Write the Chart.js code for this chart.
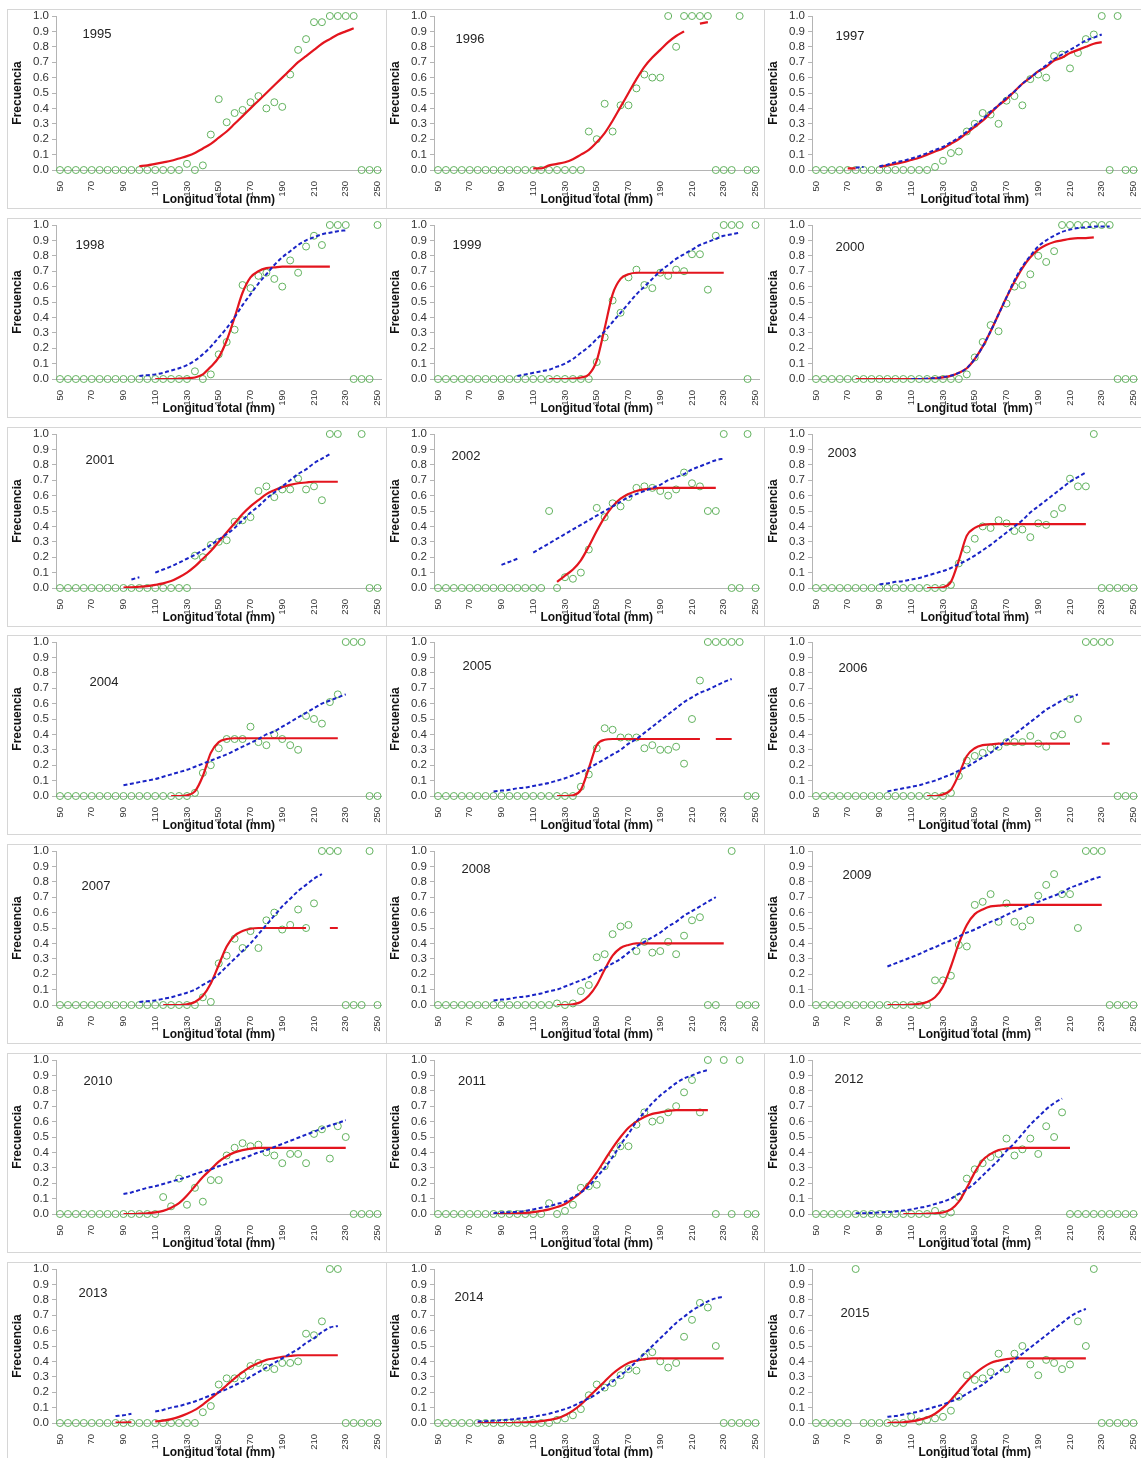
<!DOCTYPE html>
<html lang="es">
<head>
<meta charset="utf-8">
<title>Frecuencia por longitud total, 1995-2015</title>
<script src="https://cdn.jsdelivr.net/npm/chart.js@4.4.1/dist/chart.umd.min.js"></script>
<style>
  html, body { margin: 0; padding: 0; background: #fff; }
  body { width: 1141px; height: 1458px; overflow: hidden; position: relative; }
  .marco { position: absolute; border: 1px solid #d6d6d6; box-sizing: border-box; }
  canvas { position: absolute; }
</style>
</head>
<body>
<script>
const _ = null;

const anios = [1995, 1996, 1997, 1998, 1999, 2000, 2001, 2002, 2003, 2004, 2005,
  2006, 2007, 2008, 2009, 2010, 2011, 2012, 2013, 2014, 2015];

// clases de longitud total (mm), cada 5 mm
const longitudes = [50, 55, 60, 65, 70, 75, 80, 85, 90, 95,
  100, 105, 110, 115, 120, 125, 130, 135, 140, 145,
  150, 155, 160, 165, 170, 175, 180, 185, 190, 195,
  200, 205, 210, 215, 220, 225, 230, 235, 240, 245,
  250];

const titulosX = ['Longitud total (mm)', 'Longitud total (mm)', 'Longitud total mm)',
  'Longitud total (mm)', 'Longitud total (mm)', 'Longitud total  (mm)',
  'Longitud total (mm)', 'Longitud total (mm)', 'Longitud total mm)',
  'Longitud total (mm)', 'Longitud total (mm)', 'Longitud total (mm)',
  'Longitud total (mm)', 'Longitud total (mm)', 'Longitud total (mm)',
  'Longitud total (mm)', 'Longitud total (mm)', 'Longitud total (mm)',
  'Longitud total (mm)', 'Longitud total (mm)', 'Longitud total (mm)'];

// frecuencia observada por clase (círculos)
const frecuencia = [
  [0,0,0,0,0,0,0,0,0,0, 0,0,0,0,0,0,0.04,0,0.03,0.23,
   0.46,0.31,0.37,0.39,0.44,0.48,0.40,0.44,0.41,0.62, 0.78,0.85,0.96,0.96,1,1,1,1,0,0, 0], // 1995
  [0,0,0,0,0,0,0,0,0,0, 0,0,0,0,0,0,0,0,0,0.25,
   0.20,0.43,0.25,0.42,0.42,0.53,0.62,0.60,0.60,1, 0.80,1,1,1,1,0,0,0,1,0, 0], // 1996
  [0,0,0,0,0,0,0,0,0,0, 0,0,0,0,0,0.02,0.06,0.11,0.12,0.25,
   0.30,0.37,0.36,0.30,0.45,0.48,0.42,0.59,0.62,0.60, 0.74,0.75,0.66,0.76,0.85,0.88,1,0,1,0, 0], // 1997
  [0,0,0,0,0,0,0,0,0,0, 0,0,0,0,0,0,0,0.05,0,0.03,
   0.16,0.24,0.32,0.61,0.59,0.67,0.69,0.65,0.60,0.77, 0.69,0.86,0.93,0.87,1,1,1,0,0,0, 1], // 1998
  [0,0,0,0,0,0,0,0,0,0, 0,0,0,0,0,0,0,0,0,0,
   0.11,0.27,0.51,0.43,0.66,0.71,0.61,0.59,0.69,0.67, 0.71,0.70,0.81,0.81,0.58,0.93,1,1,1,0, 1], // 1999
  [0,0,0,0,0,0,0,0,0,0, 0,0,0,0,0,0,0,0,0,0.03,
   0.14,0.24,0.35,0.31,0.49,0.60,0.61,0.68,0.80,0.76, 0.83,1,1,1,1,1,1,1,0,0, 0], // 2000
  [0,0,0,0,0,0,0,0,0,0, 0,0,0,0,0,0,0,0.21,0.20,0.28,
   0.30,0.31,0.43,0.44,0.46,0.63,0.66,0.59,0.64,0.64, 0.71,0.64,0.66,0.57,1,1,_,_,1,0, 0], // 2001
  [0,0,0,0,0,0,0,0,0,0, 0,0,0,0,0.5,0,0.07,0.06,0.10,0.25,
   0.52,0.46,0.55,0.53,0.59,0.65,0.66,0.65,0.63,0.60, 0.64,0.75,0.68,0.66,0.5,0.5,1,0,0,1, 0], // 2002
  [0,0,0,0,0,0,0,0,0,0, 0,0,0,0,0,0,0,0.02,0.16,0.25,
   0.32,0.40,0.39,0.44,0.42,0.37,0.38,0.33,0.42,0.41, 0.48,0.52,0.71,0.66,0.66,1,0,0,0,0, 0], // 2003
  [0,0,0,0,0,0,0,0,0,0, 0,0,0,0,0,0,0,0.02,0.15,0.20,
   0.31,0.37,0.37,0.37,0.45,0.35,0.33,0.40,0.37,0.33, 0.30,0.52,0.50,0.47,0.61,0.66,1,1,1,0, 0], // 2004
  [0,0,0,0,0,0,0,0,0,0, 0,0,0,0,0,0,0,0,0.06,0.14,
   0.31,0.44,0.43,0.38,0.38,0.38,0.31,0.33,0.30,0.30, 0.32,0.21,0.50,0.75,1,1,1,1,1,0, 0], // 2005
  [0,0,0,0,0,0,0,0,0,0, 0,0,0,0,0,0,0,0.02,0.13,0.23,
   0.26,0.28,0.31,0.32,0.35,0.35,0.35,0.39,0.34,0.32, 0.39,0.40,0.63,0.50,1,1,1,1,0,0, 0], // 2006
  [0,0,0,0,0,0,0,0,0,0, 0,0,0,0,0,0,0,0,0.05,0.02,
   0.27,0.32,0.43,0.37,0.48,0.37,0.55,0.60,0.49,0.52, 0.62,0.50,0.66,1,1,1,0,0,0,1, 0], // 2007
  [0,0,0,0,0,0,0,0,0,0, 0,0,0,0,0,0.01,0,0.01,0.09,0.13,
   0.31,0.33,0.46,0.51,0.52,0.35,0.41,0.34,0.35,0.41, 0.33,0.45,0.55,0.57,0,0,_,1,0,0, 0], // 2008
  [0,0,0,0,0,0,0,0,0,0, 0,0,0,0,0,0.16,0.16,0.19,0.39,0.38,
   0.65,0.67,0.72,0.54,0.66,0.54,0.51,0.55,0.71,0.78, 0.85,0.72,0.72,0.50,1,1,1,0,0,0, 0], // 2009
  [0,0,0,0,0,0,0,0,0,0, 0,0,0,0.11,0.05,0.23,0.06,0.17,0.08,0.22,
   0.22,0.38,0.43,0.46,0.44,0.45,0.40,0.38,0.33,0.39, 0.39,0.33,0.52,0.55,0.36,0.57,0.50,0,0,0, 0], // 2010
  [0,0,0,0,0,0,0,0,0,0, 0,0,0,0,0.07,0,0.02,0.06,0.17,0.18,
   0.19,0.31,0.39,0.44,0.44,0.58,0.66,0.60,0.61,0.66, 0.70,0.79,0.87,0.66,1,0,1,0,1,0, 0], // 2011
  [0,0,0,0,0,0,0,0,0,0, 0,0,0,0,0,0.02,0,0.01,0.11,0.23,
   0.29,0.33,0.37,0.39,0.49,0.38,0.42,0.49,0.39,0.57, 0.50,0.66,0,0,0,0,0,0,0,0, 0], // 2012
  [0,0,0,0,0,0,0,0,0,0, 0,0,0,0,0,0,0,0,0.07,0.11,
   0.25,0.29,0.29,0.31,0.37,0.39,0.36,0.35,0.39,0.39, 0.40,0.58,0.57,0.66,1,1,0,0,0,0, 0], // 2013
  [0,0,0,0,0,0,0,0,0,0, 0,0,0,0,0,0.02,0.03,0.05,0.09,0.18,
   0.25,0.23,0.26,0.31,0.35,0.34,0.43,0.46,0.40,0.36, 0.39,0.56,0.67,0.78,0.75,0.50,0,0,0,0, 0], // 2014
  [0,0,0,0,0,1,0,0,0,0, 0,0,0.04,0.01,0.02,0.03,0.04,0.08,0.17,0.31,
   0.28,0.29,0.33,0.45,0.35,0.45,0.50,0.38,0.31,0.41, 0.39,0.35,0.38,0.66,0.50,1,0,0,0,0, 0]  // 2015
];

// curva ajustada (línea roja continua)
const curvaRoja = [
  [_,_,_,_,_,_,_,_,_,_, 0.025,0.03,0.04,0.05,0.06,0.075,0.09,0.11,0.14,0.17,
   0.21,0.25,0.30,0.35,0.40,0.45,0.50,0.55,0.60,0.65, 0.70,0.74,0.78,0.82,0.85,0.88,0.90,0.92,_,_, _], // 1995
  [_,_,_,_,_,_,_,_,_,_, _,_,0.01,0.01,0.03,0.04,0.05,0.07,0.10,0.13,
   0.18,0.24,0.32,0.41,0.50,0.59,0.67,0.73,0.78,0.83, 0.87,0.90,_,0.95,0.96,_,_,_,_,_, _], // 1996
  [_,_,_,_,0.01,0.01,_,_,0.02,0.03, 0.04,0.05,0.065,0.08,0.10,0.12,0.14,0.17,0.20,0.24,
   0.28,0.32,0.37,0.42,0.46,0.51,0.56,0.60,0.64,0.67, 0.71,0.73,0.76,0.78,0.80,0.82,0.83,_,_,_, _], // 1997
  [_,_,_,_,_,_,_,_,_,_, _,_,0,0,0,0.002,0.005,0.01,0.03,0.08,
   0.14,0.25,0.40,0.56,0.66,0.70,0.72,0.725,0.73,0.73, 0.73,0.73,0.73,0.73,0.73,_,_,_,_,_, _], // 1998
  [_,_,_,_,_,_,_,_,_,_, _,_,_,_,0,0,0,0.002,0.01,0.03,
   0.12,0.33,0.55,0.65,0.68,0.69,0.69,0.69,0.69,0.69, 0.69,0.69,0.69,0.69,0.69,0.69,0.69,_,_,_, _], // 1999
  [_,_,_,_,_,0,0,0,0,0, 0,0,0,0,0,0.005,0.01,0.02,0.04,0.07,
   0.13,0.21,0.31,0.42,0.53,0.63,0.72,0.79,0.84,0.87, 0.89,0.90,0.91,0.915,0.915,0.92,_,_,_,_, _], // 2000
  [_,_,_,_,_,_,_,_,0.003,0.005, 0.008,0.012,0.02,0.03,0.045,0.07,0.10,0.14,0.19,0.24,
   0.30,0.36,0.42,0.48,0.53,0.57,0.61,0.635,0.655,0.67, 0.68,0.685,0.69,0.69,0.69,0.69,_,_,_,_, _], // 2001
  [_,_,_,_,_,_,_,_,_,_, _,_,_,_,_,0.04,0.08,0.12,0.18,0.27,
   0.37,0.46,0.53,0.58,0.61,0.63,0.64,0.645,0.65,0.65, 0.65,0.65,0.65,0.65,0.65,0.65,_,_,_,_, _], // 2002
  [_,_,_,_,_,_,_,_,_,_, _,_,_,_,0,0,0.005,0.04,0.18,0.34,
   0.39,0.41,0.415,0.415,0.415,0.415,0.415,0.415,0.415,0.415, 0.415,0.415,0.415,0.415,0.415,_,_,_,_,_, _], // 2003
  [_,_,_,_,_,_,_,_,_,_, _,_,_,_,0,0,0.005,0.03,0.13,0.28,
   0.35,0.37,0.375,0.375,0.375,0.375,0.375,0.375,0.375,0.375, 0.375,0.375,0.375,0.375,0.375,0.375,_,_,_,_, _], // 2004
  [_,_,_,_,_,_,_,_,_,_, _,_,_,_,_,0,0,0.005,0.04,0.18,
   0.33,0.365,0.37,0.37,0.37,0.37,0.37,0.37,0.37,0.37, 0.37,0.37,0.37,0.37,_,0.37,0.37,0.37,_,_, _], // 2005
  [_,_,_,_,_,_,_,_,_,_, _,_,_,_,0,0,0.01,0.04,0.14,0.26,
   0.31,0.33,0.335,0.34,0.34,0.34,0.34,0.34,0.34,0.34, 0.34,0.34,0.34,_,_,_,0.34,0.34,_,_, _], // 2006
  [_,_,_,_,_,_,_,_,_,_, _,_,_,0,0,0,0.005,0.02,0.06,0.14,
   0.26,0.38,0.45,0.48,0.495,0.50,0.50,0.50,0.50,0.50, 0.50,0.50,_,_,0.50,0.50,_,_,_,_, _], // 2007
  [_,_,_,_,_,_,_,_,_,_, _,_,_,_,_,0,0,0.005,0.02,0.06,
   0.13,0.23,0.32,0.37,0.39,0.40,0.40,0.40,0.40,0.40, 0.40,0.40,0.40,0.40,0.40,0.40,0.40,_,_,_, _], // 2008
  [_,_,_,_,_,_,_,_,_,0, 0,0,0.002,0.008,0.02,0.05,0.12,0.25,0.40,0.52,
   0.59,0.62,0.64,0.645,0.65,0.65,0.65,0.65,0.65,0.65, 0.65,0.65,0.65,0.65,0.65,0.65,0.65,_,_,_, _], // 2009
  [_,_,_,_,_,_,_,_,0,0, 0.002,0.005,0.01,0.02,0.04,0.07,0.12,0.18,0.24,0.29,
   0.34,0.375,0.40,0.415,0.425,0.43,0.43,0.43,0.43,0.43, 0.43,0.43,0.43,0.43,0.43,0.43,0.43,_,_,_, _], // 2010
  [_,_,_,_,_,_,_,0,0,0.002, 0.004,0.007,0.012,0.02,0.03,0.045,0.065,0.10,0.14,0.20,
   0.27,0.35,0.43,0.50,0.56,0.60,0.63,0.65,0.66,0.67, 0.675,0.675,0.675,0.675,0.675,_,_,_,_,_, _], // 2011
  [_,_,_,_,_,_,_,_,_,_, _,0,0,0,0.002,0.005,0.01,0.03,0.08,0.17,
   0.27,0.35,0.39,0.415,0.425,0.43,0.43,0.43,0.43,0.43, 0.43,0.43,0.43,_,_,_,_,_,_,_, _], // 2012
  [_,_,_,_,_,_,_,0.003,0.003,0.004, _,_,0.01,0.015,0.025,0.04,0.06,0.085,0.12,0.16,
   0.20,0.245,0.29,0.33,0.365,0.39,0.41,0.42,0.43,0.435, 0.44,0.44,0.44,0.44,0.44,0.44,_,_,_,_, _], // 2013
  [_,_,_,_,_,0,0,0,0,0, 0.002,0.004,0.007,0.012,0.02,0.03,0.05,0.08,0.12,0.17,
   0.22,0.27,0.32,0.36,0.39,0.405,0.415,0.42,0.42,0.42, 0.42,0.42,0.42,0.42,0.42,0.42,0.42,_,_,_, _], // 2014
  [_,_,_,_,_,_,_,_,_,0, 0.002,0.005,0.01,0.02,0.035,0.06,0.10,0.15,0.21,0.27,
   0.32,0.36,0.39,0.405,0.415,0.42,0.42,0.42,0.42,0.42, 0.42,0.42,0.42,0.42,0.42,_,_,_,_,_, _]  // 2015
];

// segunda curva (línea azul discontinua); 1995 y 1996 sin curva
const curvaAzul = [
  [], // 1995
  [], // 1996
  [_,_,_,_,_,0.015,0.02,_,0.025,0.035, 0.05,0.06,0.075,0.09,0.11,0.13,0.15,0.18,0.21,0.25,
   0.29,0.33,0.38,0.42,0.47,0.51,0.56,0.60,0.64,0.68, 0.72,0.75,0.78,0.81,0.84,0.86,0.88,_,_,_, _], // 1997
  [_,_,_,_,_,_,_,_,_,_, 0.02,0.025,0.03,0.04,0.055,0.07,0.09,0.12,0.16,0.21,
   0.27,0.33,0.40,0.48,0.55,0.62,0.68,0.74,0.79,0.83, 0.87,0.90,0.92,0.94,0.95,0.96,0.965,_,_,_, _], // 1998
  [_,_,_,_,_,_,_,_,_,_, 0.02,0.03,0.04,0.05,0.06,0.08,0.10,0.13,0.17,0.21,
   0.26,0.31,0.37,0.43,0.49,0.55,0.60,0.65,0.70,0.74, 0.78,0.81,0.84,0.87,0.89,0.91,0.93,0.94,0.95,_, _], // 1999
  [_,_,_,_,_,_,_,_,_,_, _,_,0,0,0.003,0.006,0.012,0.022,0.04,0.07,
   0.13,0.21,0.31,0.42,0.53,0.64,0.73,0.80,0.86,0.90, 0.93,0.955,0.97,0.98,0.985,0.99,0.99,0.99,_,_, _], // 2000
  [_,_,_,_,_,_,_,_,_,0.055, 0.07,_,0.10,0.12,0.14,0.165,0.19,0.215,0.245,0.28,
   0.315,0.35,0.39,0.44,0.49,0.53,0.58,0.62,0.66,0.70, 0.74,0.77,0.81,0.84,0.87,_,_,_,_,_, _], // 2001
  [_,_,_,_,_,_,_,_,0.15,0.17, 0.19,_,0.23,0.26,0.29,0.32,0.35,0.38,0.41,0.44,
   0.47,0.50,0.53,0.56,0.59,0.61,0.63,0.65,0.67,0.70, 0.72,0.74,0.77,0.79,0.81,0.83,0.84,_,_,_, _], // 2002
  [_,_,_,_,_,_,_,_,0.025,0.03, 0.04,0.045,0.055,0.065,0.08,0.095,0.11,0.13,0.155,0.18,
   0.21,0.245,0.28,0.32,0.36,0.40,0.44,0.49,0.53,0.57, 0.61,0.65,0.69,0.72,0.75,_,_,_,_,_, _], // 2003
  [_,_,_,_,_,_,_,_,0.07,0.08, 0.09,0.10,0.11,0.125,0.14,0.155,0.17,0.19,0.21,0.23,
   0.25,0.27,0.295,0.32,0.345,0.37,0.40,0.42,0.45,0.48, 0.51,0.54,0.57,0.60,0.62,0.64,0.66,_,_,_, _], // 2004
  [_,_,_,_,_,_,_,0.03,0.035,0.04, 0.05,0.055,0.065,0.075,0.085,0.10,0.115,0.135,0.155,0.18,
   0.21,0.24,0.27,0.30,0.34,0.37,0.41,0.45,0.49,0.53, 0.57,0.61,0.64,0.67,0.69,0.715,0.74,0.76,_,_, _], // 2005
  [_,_,_,_,_,_,_,_,_,0.03, 0.04,0.05,0.06,0.07,0.085,0.10,0.12,0.14,0.165,0.19,
   0.22,0.25,0.28,0.32,0.36,0.40,0.44,0.48,0.52,0.56, 0.59,0.62,0.64,0.66,_,_,_,_,_,_, _], // 2006
  [_,_,_,_,_,_,_,_,_,_, 0.02,0.025,0.03,0.04,0.05,0.065,0.08,0.10,0.13,0.16,
   0.20,0.25,0.30,0.35,0.40,0.46,0.52,0.58,0.64,0.69, 0.74,0.78,0.82,0.85,_,_,_,_,_,_, _], // 2007
  [_,_,_,_,_,_,_,0.03,0.035,0.04, 0.05,0.055,0.065,0.075,0.09,0.10,0.12,0.14,0.16,0.18,
   0.21,0.24,0.27,0.30,0.34,0.38,0.41,0.44,0.47,0.51, 0.54,0.58,0.61,0.64,0.67,0.70,_,_,_,_, _], // 2008
  [_,_,_,_,_,_,_,_,_,0.25, 0.27,0.29,0.31,0.33,0.355,0.375,0.40,0.42,0.445,0.47,
   0.49,0.515,0.54,0.56,0.585,0.61,0.63,0.65,0.67,0.69, 0.71,0.73,0.76,0.78,0.80,0.82,0.835,_,_,_, _], // 2009
  [_,_,_,_,_,_,_,_,0.13,0.14, 0.155,0.17,0.18,0.195,0.21,0.225,0.24,0.26,0.275,0.29,
   0.31,0.325,0.345,0.36,0.38,0.40,0.415,0.435,0.455,0.475, 0.495,0.515,0.535,0.555,0.575,0.59,0.61,_,_,_, _], // 2010
  [_,_,_,_,_,_,_,0.005,0.01,0.012, 0.015,0.02,0.03,0.04,0.05,0.065,0.08,0.11,0.14,0.18,
   0.24,0.30,0.37,0.45,0.52,0.60,0.66,0.72,0.77,0.81, 0.85,0.88,0.90,0.92,0.935,_,_,_,_,_, _], // 2011
  [_,_,_,_,_,0.005,0.005,0.007,0.01,0.013, 0.017,0.022,0.03,0.04,0.05,0.065,0.08,0.10,0.13,0.16,
   0.20,0.25,0.30,0.35,0.41,0.46,0.52,0.58,0.63,0.68, 0.72,0.75,_,_,_,_,_,_,_,_, _], // 2012
  [_,_,_,_,_,_,_,0.045,0.05,0.06, _,_,0.075,0.085,0.10,0.11,0.125,0.14,0.16,0.18,
   0.20,0.22,0.245,0.27,0.30,0.33,0.36,0.39,0.42,0.45, 0.48,0.52,0.55,0.59,0.62,0.63,_,_,_,_, _], // 2013
  [_,_,_,_,_,0.01,0.012,0.015,0.018,0.022, 0.027,0.033,0.04,0.05,0.06,0.075,0.09,0.11,0.135,0.16,
   0.19,0.23,0.27,0.31,0.35,0.40,0.45,0.50,0.55,0.60, 0.65,0.69,0.73,0.76,0.79,0.81,0.82,_,_,_, _], // 2014
  [_,_,_,_,_,_,_,_,_,0.04, 0.045,0.055,0.065,0.075,0.09,0.105,0.12,0.14,0.16,0.19,
   0.22,0.25,0.29,0.33,0.37,0.41,0.45,0.49,0.53,0.57, 0.61,0.65,0.69,0.72,0.74,_,_,_,_,_, _]  // 2015
];

// posición del rótulo del año, en px desde la esquina superior izquierda del área de trazado
const rotuloDx = [41, 36, 38, 34, 33, 38, 44, 32, 30, 48, 43, 41, 40, 42, 45, 42, 38, 37, 37, 35, 43];
const rotuloDy = [18, 23, 20, 20, 20, 22, 26, 22, 19, 40, 24, 26, 35, 18, 24, 21, 21, 19, 24, 28, 44];

const FUENTE = "'Liberation Sans', Arial, sans-serif";
const GRIS = '#b4b4b4';
const PASO_COL = 378;
const PASO_FILA = 208.8;

const rotuloAnio = {
  id: 'rotuloAnio',
  afterDatasetsDraw(chart, args, opts) {
    const { ctx, chartArea } = chart;
    ctx.save();
    ctx.font = '13px ' + FUENTE;
    ctx.fillStyle = '#222';
    ctx.textAlign = 'center';
    ctx.textBaseline = 'middle';
    ctx.fillText(opts.texto, chartArea.left + opts.dx, chartArea.top + opts.dy);
    ctx.restore();
  }
};

function crearPanel(i) {
  const col = i % 3;
  const fila = Math.floor(i / 3);

  // marco gris de cada gráfico
  const marco = document.createElement('div');
  marco.className = 'marco';
  marco.style.left = [7, 386, 764][col] + 'px';
  marco.style.top = Math.round(9 + fila * PASO_FILA) + 'px';
  marco.style.width = (col === 0 ? 380 : 379) + 'px';
  marco.style.height = '200px';
  document.body.appendChild(marco);

  const canvas = document.createElement('canvas');
  canvas.width = 392;
  canvas.height = 207;
  canvas.style.left = (col * PASO_COL) + 'px';
  canvas.style.top = Math.round(fila * PASO_FILA) + 'px';
  document.body.appendChild(canvas);

  const datasets = [
    {
      label: 'Observado',
      data: frecuencia[i],
      showLine: false,
      pointStyle: 'circle',
      pointRadius: 3.5,
      pointBorderWidth: 1,
      pointBorderColor: '#62b25e',
      pointBackgroundColor: 'rgba(0,0,0,0)',
      clip: false,
      order: 3
    },
    {
      label: 'Ajuste',
      data: curvaRoja[i],
      borderColor: '#e3151e',
      borderWidth: 2.2,
      pointRadius: 0,
      cubicInterpolationMode: 'monotone',
      spanGaps: false,
      order: 2
    }
  ];
  if (curvaAzul[i].length) {
    datasets.push({
      label: 'Ajuste 2',
      data: curvaAzul[i],
      borderColor: '#1a24c6',
      borderWidth: 2,
      borderDash: [4, 2.5],
      pointRadius: 0,
      cubicInterpolationMode: 'monotone',
      spanGaps: false,
      order: 1
    });
  }

  new Chart(canvas, {
    type: 'line',
    data: { labels: longitudes, datasets },
    options: {
      responsive: false,
      animation: false,
      devicePixelRatio: 1,
      layout: { padding: { left: 6, top: 16, right: 8, bottom: 0 } },
      plugins: {
        legend: { display: false },
        tooltip: { enabled: false },
        rotuloAnio: { texto: String(anios[i]), dx: rotuloDx[i], dy: rotuloDy[i] }
      },
      scales: {
        x: {
          type: 'category',
          offset: true,
          grid: { display: false },
          border: { color: GRIS },
          ticks: {
            autoSkip: false,
            minRotation: 90,
            maxRotation: 90,
            padding: 3,
            color: '#333',
            font: { family: FUENTE, size: 9.5 },
            callback: (v, idx) => idx % 4 === 0 ? String(longitudes[idx]) : ''
          },
          title: {
            display: true,
            text: titulosX[i],
            color: '#111',
            padding: { top: 0, bottom: 0 },
            font: { family: FUENTE, size: 12, weight: 'bold' }
          },
          afterFit: s => { s.height = 37; }
        },
        y: {
          min: 0,
          max: 1,
          grid: { drawOnChartArea: false, tickLength: 4, color: GRIS },
          border: { color: GRIS },
          ticks: {
            stepSize: 0.1,
            autoSkip: false,
            padding: 3,
            color: '#333',
            font: { family: FUENTE, size: 11.5 },
            callback: v => v.toFixed(1)
          },
          title: {
            display: true,
            text: 'Frecuencia',
            color: '#111',
            font: { family: FUENTE, size: 12, weight: 'bold' }
          },
          afterFit: s => { s.width = 50; }
        }
      }
    },
    plugins: [rotuloAnio]
  });
}

anios.forEach((a, i) => crearPanel(i));
</script>
</body>
</html>
